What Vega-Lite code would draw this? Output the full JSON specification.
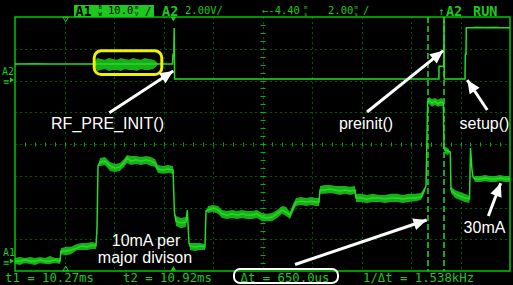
{
  "$schema": "https://vega.github.io/schema/vega-lite/v6.json",
  "width": 495,
  "height": 254,
  "autosize": {"type": "none"},
  "padding": {"left": 15, "top": 17, "right": 3, "bottom": 14},
  "background": "#000000",
  "config": {
    "view": {"stroke": "#00c800", "strokeWidth": 1.5},
    "axis": {"labels": false, "ticks": false, "domain": false, "title": null, "grid": false},
    "text": {"font": "DejaVu Sans Mono"}
  },
  "datasets": {
    "a1": [
      {"x": -5.000, "v": -3.69, "lo": -3.59, "hi": -3.78},
      {"x": -4.899, "v": -3.69, "lo": -3.56, "hi": -3.81},
      {"x": -4.798, "v": -3.65, "lo": -3.59, "hi": -3.75},
      {"x": -4.697, "v": -3.69, "lo": -3.56, "hi": -3.78},
      {"x": -4.596, "v": -3.69, "lo": -3.59, "hi": -3.81},
      {"x": -4.495, "v": -3.65, "lo": -3.56, "hi": -3.75},
      {"x": -4.394, "v": -3.69, "lo": -3.59, "hi": -3.78},
      {"x": -4.293, "v": -3.69, "lo": -3.53, "hi": -3.78},
      {"x": -4.192, "v": -3.65, "lo": -3.59, "hi": -3.75},
      {"x": -4.091, "v": -3.69, "lo": -3.59, "hi": -3.78},
      {"x": -4.071, "v": -3.37, "lo": -3.28, "hi": -3.47},
      {"x": -3.970, "v": -3.37, "lo": -3.24, "hi": -3.50},
      {"x": -3.869, "v": -3.34, "lo": -3.24, "hi": -3.47},
      {"x": -3.747, "v": -3.28, "lo": -3.15, "hi": -3.34},
      {"x": -3.646, "v": -3.21, "lo": -3.12, "hi": -3.34},
      {"x": -3.545, "v": -3.24, "lo": -3.12, "hi": -3.34},
      {"x": -3.444, "v": -3.18, "lo": -3.09, "hi": -3.31},
      {"x": -3.364, "v": -3.21, "lo": -3.12, "hi": -3.31},
      {"x": -3.343, "v": -2.65, "lo": -2.65, "hi": -2.65},
      {"x": -3.323, "v": -0.69, "lo": -0.69, "hi": -0.69},
      {"x": -3.283, "v": -0.57, "lo": -0.44, "hi": -0.69},
      {"x": -3.182, "v": -0.54, "lo": -0.41, "hi": -0.66},
      {"x": -3.081, "v": -0.69, "lo": -0.57, "hi": -0.85},
      {"x": -2.980, "v": -0.76, "lo": -0.63, "hi": -0.88},
      {"x": -2.879, "v": -0.72, "lo": -0.60, "hi": -0.85},
      {"x": -2.798, "v": -0.60, "lo": -0.47, "hi": -0.72},
      {"x": -2.737, "v": -0.44, "lo": -0.35, "hi": -0.60},
      {"x": -2.657, "v": -0.54, "lo": -0.38, "hi": -0.66},
      {"x": -2.556, "v": -0.50, "lo": -0.38, "hi": -0.63},
      {"x": -2.455, "v": -0.54, "lo": -0.41, "hi": -0.66},
      {"x": -2.354, "v": -0.50, "lo": -0.38, "hi": -0.63},
      {"x": -2.253, "v": -0.54, "lo": -0.41, "hi": -0.69},
      {"x": -2.172, "v": -0.60, "lo": -0.47, "hi": -0.72},
      {"x": -2.111, "v": -0.79, "lo": -0.66, "hi": -0.91},
      {"x": -2.010, "v": -0.82, "lo": -0.69, "hi": -0.94},
      {"x": -1.909, "v": -0.79, "lo": -0.66, "hi": -0.91},
      {"x": -1.808, "v": -0.82, "lo": -0.69, "hi": -0.94},
      {"x": -1.778, "v": -2.17, "lo": -2.17, "hi": -2.17},
      {"x": -1.747, "v": -2.43, "lo": -2.27, "hi": -2.58},
      {"x": -1.646, "v": -2.49, "lo": -2.33, "hi": -2.65},
      {"x": -1.545, "v": -2.46, "lo": -2.30, "hi": -2.61},
      {"x": -1.519, "v": -2.08, "lo": -2.08, "hi": -2.08},
      {"x": -1.485, "v": -3.12, "lo": -3.12, "hi": -3.12},
      {"x": -1.465, "v": -3.21, "lo": -3.12, "hi": -3.34},
      {"x": -1.364, "v": -3.24, "lo": -3.12, "hi": -3.37},
      {"x": -1.263, "v": -3.21, "lo": -3.12, "hi": -3.34},
      {"x": -1.162, "v": -3.24, "lo": -3.15, "hi": -3.34},
      {"x": -1.141, "v": -2.11, "lo": -2.11, "hi": -2.11},
      {"x": -1.101, "v": -2.08, "lo": -1.95, "hi": -2.17},
      {"x": -1.000, "v": -2.02, "lo": -1.92, "hi": -2.14},
      {"x": -0.899, "v": -2.08, "lo": -1.95, "hi": -2.20},
      {"x": -0.818, "v": -2.20, "lo": -2.08, "hi": -2.33},
      {"x": -0.717, "v": -2.24, "lo": -2.11, "hi": -2.36},
      {"x": -0.616, "v": -2.20, "lo": -2.08, "hi": -2.33},
      {"x": -0.515, "v": -2.24, "lo": -2.11, "hi": -2.36},
      {"x": -0.414, "v": -2.20, "lo": -2.08, "hi": -2.33},
      {"x": -0.313, "v": -2.24, "lo": -2.11, "hi": -2.36},
      {"x": -0.212, "v": -2.24, "lo": -2.11, "hi": -2.36},
      {"x": -0.111, "v": -2.20, "lo": -2.08, "hi": -2.33},
      {"x": -0.010, "v": -2.30, "lo": -2.17, "hi": -2.43},
      {"x": 0.091, "v": -2.33, "lo": -2.20, "hi": -2.43},
      {"x": 0.192, "v": -2.30, "lo": -2.17, "hi": -2.43},
      {"x": 0.293, "v": -2.20, "lo": -2.08, "hi": -2.33},
      {"x": 0.394, "v": -2.08, "lo": -1.95, "hi": -2.20},
      {"x": 0.475, "v": -2.14, "lo": -1.98, "hi": -2.27},
      {"x": 0.556, "v": -2.24, "lo": -2.14, "hi": -2.36},
      {"x": 0.616, "v": -2.02, "lo": -1.89, "hi": -2.14},
      {"x": 0.677, "v": -1.83, "lo": -1.70, "hi": -1.95},
      {"x": 0.778, "v": -1.80, "lo": -1.67, "hi": -1.92},
      {"x": 0.879, "v": -1.83, "lo": -1.70, "hi": -1.95},
      {"x": 0.980, "v": -1.80, "lo": -1.67, "hi": -1.92},
      {"x": 1.081, "v": -1.83, "lo": -1.70, "hi": -1.95},
      {"x": 1.141, "v": -1.83, "lo": -1.70, "hi": -1.95},
      {"x": 1.162, "v": -1.45, "lo": -1.32, "hi": -1.57},
      {"x": 1.263, "v": -1.45, "lo": -1.29, "hi": -1.57},
      {"x": 1.364, "v": -1.42, "lo": -1.29, "hi": -1.54},
      {"x": 1.465, "v": -1.45, "lo": -1.32, "hi": -1.57},
      {"x": 1.566, "v": -1.48, "lo": -1.32, "hi": -1.61},
      {"x": 1.667, "v": -1.45, "lo": -1.32, "hi": -1.57},
      {"x": 1.768, "v": -1.48, "lo": -1.35, "hi": -1.61},
      {"x": 1.869, "v": -1.45, "lo": -1.32, "hi": -1.57},
      {"x": 1.889, "v": -1.70, "lo": -1.57, "hi": -1.83},
      {"x": 1.990, "v": -1.70, "lo": -1.57, "hi": -1.83},
      {"x": 2.111, "v": -1.73, "lo": -1.61, "hi": -1.86},
      {"x": 2.232, "v": -1.70, "lo": -1.57, "hi": -1.83},
      {"x": 2.354, "v": -1.70, "lo": -1.61, "hi": -1.83},
      {"x": 2.475, "v": -1.73, "lo": -1.61, "hi": -1.86},
      {"x": 2.596, "v": -1.70, "lo": -1.57, "hi": -1.83},
      {"x": 2.717, "v": -1.70, "lo": -1.57, "hi": -1.83},
      {"x": 2.838, "v": -1.73, "lo": -1.61, "hi": -1.86},
      {"x": 2.960, "v": -1.70, "lo": -1.57, "hi": -1.83},
      {"x": 3.081, "v": -1.70, "lo": -1.57, "hi": -1.80},
      {"x": 3.202, "v": -1.67, "lo": -1.54, "hi": -1.76},
      {"x": 3.263, "v": -1.48, "lo": -1.39, "hi": -1.57},
      {"x": 3.303, "v": -1.32, "lo": -1.32, "hi": -1.32},
      {"x": 3.337, "v": 1.32, "lo": 1.32, "hi": 1.32},
      {"x": 3.364, "v": 1.39, "lo": 1.48, "hi": 1.26},
      {"x": 3.424, "v": 1.29, "lo": 1.42, "hi": 1.17},
      {"x": 3.485, "v": 1.35, "lo": 1.45, "hi": 1.23},
      {"x": 3.545, "v": 1.26, "lo": 1.39, "hi": 1.17},
      {"x": 3.606, "v": 1.32, "lo": 1.45, "hi": 1.20},
      {"x": 3.653, "v": 1.29, "lo": 1.42, "hi": 1.20},
      {"x": 3.667, "v": -0.13, "lo": -0.13, "hi": -0.13},
      {"x": 3.687, "v": -0.19, "lo": -0.09, "hi": -0.31},
      {"x": 3.747, "v": -0.22, "lo": -0.13, "hi": -0.35},
      {"x": 3.794, "v": -0.25, "lo": -0.25, "hi": -0.25},
      {"x": 3.808, "v": -1.45, "lo": -1.35, "hi": -1.54},
      {"x": 3.889, "v": -1.57, "lo": -1.45, "hi": -1.70},
      {"x": 3.990, "v": -1.64, "lo": -1.51, "hi": -1.76},
      {"x": 4.091, "v": -1.70, "lo": -1.57, "hi": -1.83},
      {"x": 4.182, "v": -1.73, "lo": -1.64, "hi": -1.86},
      {"x": 4.202, "v": -0.13, "lo": -0.13, "hi": -0.13},
      {"x": 4.232, "v": -0.82, "lo": -0.82, "hi": -0.82},
      {"x": 4.253, "v": -1.04, "lo": -1.04, "hi": -1.04},
      {"x": 4.293, "v": -1.10, "lo": -1.01, "hi": -1.20},
      {"x": 4.394, "v": -1.10, "lo": -1.01, "hi": -1.20},
      {"x": 4.495, "v": -1.07, "lo": -0.98, "hi": -1.17},
      {"x": 4.596, "v": -1.10, "lo": -1.01, "hi": -1.20},
      {"x": 4.697, "v": -1.10, "lo": -1.01, "hi": -1.20},
      {"x": 4.798, "v": -1.07, "lo": -0.98, "hi": -1.17},
      {"x": 4.899, "v": -1.10, "lo": -1.01, "hi": -1.20},
      {"x": 5.000, "v": -1.10, "lo": -1.01, "hi": -1.20}
    ],
    "a2": [
      {"x": -5.000, "v": 2.52, "lo": 2.52, "hi": 2.52},
      {"x": -4.596, "v": 2.52, "lo": 2.55, "hi": 2.52},
      {"x": -4.293, "v": 2.52, "lo": 2.52, "hi": 2.52},
      {"x": -3.444, "v": 2.52, "lo": 2.52, "hi": 2.52},
      {"x": -3.384, "v": 2.52, "lo": 2.58, "hi": 2.46},
      {"x": -3.343, "v": 2.52, "lo": 2.71, "hi": 2.30},
      {"x": -3.263, "v": 2.52, "lo": 2.68, "hi": 2.33},
      {"x": -3.182, "v": 2.52, "lo": 2.65, "hi": 2.36},
      {"x": -3.101, "v": 2.52, "lo": 2.71, "hi": 2.30},
      {"x": -3.020, "v": 2.52, "lo": 2.68, "hi": 2.33},
      {"x": -2.939, "v": 2.52, "lo": 2.65, "hi": 2.33},
      {"x": -2.859, "v": 2.52, "lo": 2.71, "hi": 2.30},
      {"x": -2.778, "v": 2.52, "lo": 2.68, "hi": 2.36},
      {"x": -2.697, "v": 2.52, "lo": 2.65, "hi": 2.33},
      {"x": -2.616, "v": 2.52, "lo": 2.71, "hi": 2.33},
      {"x": -2.535, "v": 2.52, "lo": 2.68, "hi": 2.30},
      {"x": -2.455, "v": 2.52, "lo": 2.65, "hi": 2.36},
      {"x": -2.374, "v": 2.52, "lo": 2.71, "hi": 2.33},
      {"x": -2.293, "v": 2.52, "lo": 2.68, "hi": 2.33},
      {"x": -2.212, "v": 2.52, "lo": 2.65, "hi": 2.36},
      {"x": -2.152, "v": 2.52, "lo": 2.61, "hi": 2.43},
      {"x": -2.111, "v": 2.52, "lo": 2.52, "hi": 2.52},
      {"x": -1.818, "v": 2.52, "lo": 2.52, "hi": 2.52},
      {"x": -1.808, "v": 2.83, "lo": 2.83, "hi": 2.83},
      {"x": -1.792, "v": 2.83, "lo": 2.83, "hi": 2.83},
      {"x": -1.784, "v": 3.65, "lo": 3.65, "hi": 3.65},
      {"x": -1.776, "v": 2.05, "lo": 2.05, "hi": 2.05},
      {"x": 3.564, "v": 2.05, "lo": 2.05, "hi": 2.05},
      {"x": 3.566, "v": 2.45, "lo": 2.45, "hi": 2.45},
      {"x": 3.661, "v": 2.45, "lo": 2.45, "hi": 2.45},
      {"x": 3.667, "v": 3.91, "lo": 3.91, "hi": 3.91},
      {"x": 3.673, "v": 2.05, "lo": 2.05, "hi": 2.05},
      {"x": 4.091, "v": 2.05, "lo": 2.05, "hi": 2.05},
      {"x": 4.097, "v": 2.83, "lo": 2.83, "hi": 2.83},
      {"x": 4.111, "v": 2.83, "lo": 2.83, "hi": 2.83},
      {"x": 4.117, "v": 3.66, "lo": 3.66, "hi": 3.66},
      {"x": 4.300, "v": 3.66, "lo": 3.70, "hi": 3.66},
      {"x": 4.500, "v": 3.66, "lo": 3.69, "hi": 3.66},
      {"x": 4.700, "v": 3.66, "lo": 3.70, "hi": 3.66},
      {"x": 5.000, "v": 3.66, "lo": 3.66, "hi": 3.66}
    ],
    "arrows": [
      {"x": -3.095, "y": 0.986, "x2": -1.802, "y2": 2.299},
      {"x": 2.111, "y": 1.008, "x2": 3.653, "y2": 2.939},
      {"x": 4.541, "y": 1.071, "x2": 4.137, "y2": 2.016},
      {"x": 0.657, "y": -3.795, "x2": 3.317, "y2": -2.394},
      {"x": 4.562, "y": -2.268, "x2": 4.812, "y2": -1.238}
    ]
  },
  "resolve": {"axis": {"x": "independent", "y": "independent"}},
  "layer": [
    {
      "data": {"name": "a1"},
      "mark": {"type": "area", "orient": "vertical", "color": "#1ccc1c", "opacity": 0.85},
      "encoding": {
        "x": {"field": "x", "type": "quantitative", "scale": {"domain": [-5, 5], "nice": false, "zero": false},
              "axis": {"grid": true, "values": [-4, -3, -2, -1, 0, 1, 2, 3, 4], "gridColor": "#00b400", "gridDash": [1, 4], "gridWidth": 1, "gridOpacity": 1}},
        "y": {"field": "lo", "type": "quantitative", "scale": {"domain": [-4, 4], "nice": false, "zero": false},
              "axis": {"grid": true, "values": [-3, -2, -1, 0, 1, 2, 3], "gridColor": "#00b400", "gridDash": [1, 4], "gridWidth": 1, "gridOpacity": 1}},
        "y2": {"field": "hi"}
      }
    },
    {
      "data": {"name": "a1"},
      "mark": {"type": "line", "color": "#22dd22", "strokeWidth": 1.5},
      "encoding": {
        "x": {"field": "x", "type": "quantitative", "scale": {"domain": [-5, 5], "nice": false, "zero": false},
              "axis": {"orient": "bottom", "offset": -127, "ticks": true, "tickSize": 2, "tickColor": "#00b400", "tickWidth": 1,
                       "values": [-4.8, -4.6, -4.4, -4.2, -4, -3.8, -3.6, -3.4, -3.2, -3, -2.8, -2.6, -2.4, -2.2, -2, -1.8, -1.6, -1.4, -1.2, -1, -0.8, -0.6, -0.4, -0.2, 0, 0.2, 0.4, 0.6, 0.8, 1, 1.2, 1.4, 1.6, 1.8, 2, 2.2, 2.4, 2.6, 2.8, 3, 3.2, 3.4, 3.6, 3.8, 4, 4.2, 4.4, 4.6, 4.8]}},
        "y": {"field": "v", "type": "quantitative", "scale": {"domain": [-4, 4], "nice": false, "zero": false},
              "axis": {"orient": "left", "offset": -247.5, "ticks": true, "tickSize": 2.5, "tickColor": "#00b400", "tickWidth": 1,
                       "values": [-3.75, -3.5, -3.25, -3, -2.75, -2.5, -2.25, -2, -1.75, -1.5, -1.25, -1, -0.75, -0.5, -0.25, 0, 0.25, 0.5, 0.75, 1, 1.25, 1.5, 1.75, 2, 2.25, 2.5, 2.75, 3, 3.25, 3.5, 3.75]}}
      }
    },
    {
      "data": {"name": "a2"},
      "mark": {"type": "area", "orient": "vertical", "color": "#1ccc1c", "opacity": 0.85},
      "encoding": {
        "x": {"field": "x", "type": "quantitative", "scale": {"domain": [-5, 5], "nice": false, "zero": false},
              "axis": {"orient": "top", "offset": -127, "ticks": true, "tickSize": 2, "tickColor": "#00b400", "tickWidth": 1,
                       "values": [-4.8, -4.6, -4.4, -4.2, -4, -3.8, -3.6, -3.4, -3.2, -3, -2.8, -2.6, -2.4, -2.2, -2, -1.8, -1.6, -1.4, -1.2, -1, -0.8, -0.6, -0.4, -0.2, 0, 0.2, 0.4, 0.6, 0.8, 1, 1.2, 1.4, 1.6, 1.8, 2, 2.2, 2.4, 2.6, 2.8, 3, 3.2, 3.4, 3.6, 3.8, 4, 4.2, 4.4, 4.6, 4.8]}},
        "y": {"field": "lo", "type": "quantitative", "scale": {"domain": [-4, 4], "nice": false, "zero": false},
              "axis": {"orient": "right", "offset": -247.5, "ticks": true, "tickSize": 2.5, "tickColor": "#00b400", "tickWidth": 1,
                       "values": [-3.75, -3.5, -3.25, -3, -2.75, -2.5, -2.25, -2, -1.75, -1.5, -1.25, -1, -0.75, -0.5, -0.25, 0, 0.25, 0.5, 0.75, 1, 1.25, 1.5, 1.75, 2, 2.25, 2.5, 2.75, 3, 3.25, 3.5, 3.75]}},
        "y2": {"field": "hi"}
      }
    },
    {
      "data": {"name": "a2"},
      "mark": {"type": "line", "color": "#22dd22", "strokeWidth": 1.5},
      "encoding": {
        "x": {"field": "x", "type": "quantitative", "scale": {"domain": [-5, 5], "nice": false, "zero": false}, "axis": null},
        "y": {"field": "v", "type": "quantitative", "scale": {"domain": [-4, 4], "nice": false, "zero": false}, "axis": null}
      }
    },
    {
      "data": {"values": [{"t": 3.343}, {"t": 3.667}]},
      "mark": {"type": "rule", "color": "#22dd22", "strokeWidth": 1.5, "strokeDash": [6, 3]},
      "encoding": {
        "x": {"field": "t", "type": "quantitative", "scale": {"domain": [-5, 5], "nice": false, "zero": false}, "axis": null}
      }
    },
    {
      "data": {"values": [{"x": -3.400, "x2": -2.034, "y": 2.935, "y2": 2.189}]},
      "mark": {"type": "rect", "filled": false, "stroke": "#f0f000", "strokeWidth": 3, "cornerRadius": 7},
      "encoding": {
        "x": {"field": "x", "type": "quantitative", "scale": {"domain": [-5, 5], "nice": false, "zero": false}, "axis": null},
        "x2": {"field": "x2"},
        "y": {"field": "y", "type": "quantitative", "scale": {"domain": [-4, 4], "nice": false, "zero": false}, "axis": null},
        "y2": {"field": "y2"}
      }
    },
    {
      "data": {"name": "arrows"},
      "mark": {"type": "rule", "color": "#ffffff", "strokeWidth": 3},
      "encoding": {
        "x": {"field": "x", "type": "quantitative", "scale": {"domain": [-5, 5], "nice": false, "zero": false}, "axis": null},
        "x2": {"field": "x2"},
        "y": {"field": "y", "type": "quantitative", "scale": {"domain": [-4, 4], "nice": false, "zero": false}, "axis": null},
        "y2": {"field": "y2"}
      }
    },
    {
      "data": {"name": "arrows"},
      "transform": [{"calculate": "atan2((datum.x2 - datum.x) * 49.5, (datum.y2 - datum.y) * 31.75) * 180 / PI", "as": "ang"}],
      "mark": {"type": "point", "shape": "M0,0 L0.45,1 L-0.45,1 Z", "filled": true, "color": "#ffffff", "opacity": 1, "size": 700},
      "encoding": {
        "x": {"field": "x2", "type": "quantitative", "scale": {"domain": [-5, 5], "nice": false, "zero": false}, "axis": null},
        "y": {"field": "y2", "type": "quantitative", "scale": {"domain": [-4, 4], "nice": false, "zero": false}, "axis": null},
        "angle": {"field": "ang", "type": "quantitative", "scale": null}
      }
    },
    {
      "data": {"values": [
        {"x": -3.131, "y": 0.488, "text": "RF_PRE_INIT()"},
        {"x": 2.091, "y": 0.488, "text": "preinit()"},
        {"x": 4.485, "y": 0.488, "text": "setup()"},
        {"x": -2.354, "y": -3.228, "text": "10mA per"},
        {"x": -2.374, "y": -3.757, "text": "major divison"},
        {"x": 4.485, "y": -2.813, "text": "30mA"}
      ]},
      "mark": {"type": "text", "font": "Liberation Sans", "fontSize": 16, "color": "#ffffff", "align": "center", "baseline": "alphabetic"},
      "encoding": {
        "x": {"field": "x", "type": "quantitative", "scale": {"domain": [-5, 5], "nice": false, "zero": false}, "axis": null},
        "y": {"field": "y", "type": "quantitative", "scale": {"domain": [-4, 4], "nice": false, "zero": false}, "axis": null},
        "text": {"field": "text"}
      }
    },
    {
      "data": {"values": [{"x": -3.808, "x2": -2.192, "y": 4.378, "y2": 4.0}]},
      "mark": {"type": "rect", "color": "#1ec81e"},
      "encoding": {
        "x": {"field": "x", "type": "quantitative", "scale": {"domain": [-5, 5], "nice": false, "zero": false}, "axis": null},
        "x2": {"field": "x2"},
        "y": {"field": "y", "type": "quantitative", "scale": {"domain": [-4, 4], "nice": false, "zero": false}, "axis": null},
        "y2": {"field": "y2"}
      }
    },
    {
      "data": {"values": [{"x": -3.778, "y": 4.031, "text": "A1"}]},
      "mark": {"type": "text", "fontSize": 13.5, "fontWeight": "bold", "color": "#000000", "align": "left", "baseline": "alphabetic"},
      "encoding": {
        "x": {"field": "x", "type": "quantitative", "scale": {"domain": [-5, 5], "nice": false, "zero": false}, "axis": null},
        "y": {"field": "y", "type": "quantitative", "scale": {"domain": [-4, 4], "nice": false, "zero": false}, "axis": null},
        "text": {"field": "text"}
      }
    },
    {
      "data": {"values": [
        {"x": -3.313, "y": 4.243, "text": ["B", "W"]},
        {"x": -2.576, "y": 4.243, "text": ["m", "V"]}
      ]},
      "mark": {"type": "text", "fontSize": 5.5, "lineHeight": 6.6, "color": "#000000", "align": "left", "baseline": "alphabetic"},
      "encoding": {
        "x": {"field": "x", "type": "quantitative", "scale": {"domain": [-5, 5], "nice": false, "zero": false}, "axis": null},
        "y": {"field": "y", "type": "quantitative", "scale": {"domain": [-4, 4], "nice": false, "zero": false}, "axis": null},
        "text": {"field": "text"}
      }
    },
    {
      "data": {"values": [
        {"x": -3.121, "y": 4.094, "text": "10.0"},
        {"x": -2.374, "y": 4.063, "text": "/"}
      ]},
      "mark": {"type": "text", "fontSize": 10.5, "color": "#000000", "align": "left", "baseline": "alphabetic"},
      "encoding": {
        "x": {"field": "x", "type": "quantitative", "scale": {"domain": [-5, 5], "nice": false, "zero": false}, "axis": null},
        "y": {"field": "y", "type": "quantitative", "scale": {"domain": [-4, 4], "nice": false, "zero": false}, "axis": null},
        "text": {"field": "text"}
      }
    },
    {
      "data": {"values": [
        {"x": -2.030, "y": 4.016, "text": "A2"},
        {"x": 3.707, "y": 4.016, "text": "A2"},
        {"x": 4.253, "y": 4.016, "text": "RUN"}
      ]},
      "mark": {"type": "text", "fontSize": 13.5, "fontWeight": "bold", "color": "#1ec81e", "align": "left", "baseline": "alphabetic"},
      "encoding": {
        "x": {"field": "x", "type": "quantitative", "scale": {"domain": [-5, 5], "nice": false, "zero": false}, "axis": null},
        "y": {"field": "y", "type": "quantitative", "scale": {"domain": [-4, 4], "nice": false, "zero": false}, "axis": null},
        "text": {"field": "text"}
      }
    },
    {
      "data": {"values": [
        {"x": -1.566, "y": 4.094, "text": "2.00V/"},
        {"x": -0.010, "y": 4.094, "text": "←-4.40"},
        {"x": 1.323, "y": 4.094, "text": "2.00"},
        {"x": 2.030, "y": 4.094, "text": "/"},
        {"x": 3.545, "y": 4.063, "text": "↑"}
      ]},
      "mark": {"type": "text", "fontSize": 10.5, "color": "#1ec81e", "align": "left", "baseline": "alphabetic"},
      "encoding": {
        "x": {"field": "x", "type": "quantitative", "scale": {"domain": [-5, 5], "nice": false, "zero": false}, "axis": null},
        "y": {"field": "y", "type": "quantitative", "scale": {"domain": [-4, 4], "nice": false, "zero": false}, "axis": null},
        "text": {"field": "text"}
      }
    },
    {
      "data": {"values": [
        {"x": 0.838, "y": 4.243, "text": ["m", "s"]},
        {"x": 1.858, "y": 4.243, "text": ["m", "s"]}
      ]},
      "mark": {"type": "text", "fontSize": 5.5, "lineHeight": 6.6, "color": "#1ec81e", "align": "left", "baseline": "alphabetic"},
      "encoding": {
        "x": {"field": "x", "type": "quantitative", "scale": {"domain": [-5, 5], "nice": false, "zero": false}, "axis": null},
        "y": {"field": "y", "type": "quantitative", "scale": {"domain": [-4, 4], "nice": false, "zero": false}, "axis": null},
        "text": {"field": "text"}
      }
    },
    {
      "data": {"values": [{"x": -0.576, "x2": 1.525, "y": -3.937, "y2": -4.378}]},
      "mark": {"type": "rect", "filled": false, "stroke": "#ffffff", "strokeWidth": 2, "cornerRadius": 6},
      "encoding": {
        "x": {"field": "x", "type": "quantitative", "scale": {"domain": [-5, 5], "nice": false, "zero": false}, "axis": null},
        "x2": {"field": "x2"},
        "y": {"field": "y", "type": "quantitative", "scale": {"domain": [-4, 4], "nice": false, "zero": false}, "axis": null},
        "y2": {"field": "y2"}
      }
    },
    {
      "data": {"values": [
        {"x": -5.202, "y": -4.346, "text": "t1 = 10.27ms"},
        {"x": -2.818, "y": -4.346, "text": "t2 = 10.92ms"},
        {"x": -0.444, "y": -4.346, "text": "Δt = 650.0us"},
        {"x": 2.030, "y": -4.346, "text": "1/Δt = 1.538kHz"}
      ]},
      "mark": {"type": "text", "fontSize": 12.3, "color": "#1ec81e", "align": "left", "baseline": "alphabetic"},
      "encoding": {
        "x": {"field": "x", "type": "quantitative", "scale": {"domain": [-5, 5], "nice": false, "zero": false}, "axis": null},
        "y": {"field": "y", "type": "quantitative", "scale": {"domain": [-4, 4], "nice": false, "zero": false}, "axis": null},
        "text": {"field": "text"}
      }
    },
    {
      "data": {"values": [
        {"x": -5.263, "y": 2.173, "text": "A2"},
        {"x": -5.243, "y": -3.528, "text": "A1"},
        {"x": -5.243, "y": 1.860, "text": "≡"},
        {"x": -5.243, "y": -3.840, "text": "≡"}
      ]},
      "mark": {"type": "text", "fontSize": 10, "color": "#1ec81e", "align": "left", "baseline": "alphabetic"},
      "encoding": {
        "x": {"field": "x", "type": "quantitative", "scale": {"domain": [-5, 5], "nice": false, "zero": false}, "axis": null},
        "y": {"field": "y", "type": "quantitative", "scale": {"domain": [-4, 4], "nice": false, "zero": false}, "axis": null},
        "text": {"field": "text"}
      }
    },
    {
      "data": {"values": [{"x": -5.060, "y": 2.016}, {"x": -5.060, "y": -3.685}]},
      "mark": {"type": "point", "shape": "triangle-right", "filled": true, "color": "#1ec81e", "opacity": 1, "size": 25},
      "encoding": {
        "x": {"field": "x", "type": "quantitative", "scale": {"domain": [-5, 5], "nice": false, "zero": false}, "axis": null},
        "y": {"field": "y", "type": "quantitative", "scale": {"domain": [-4, 4], "nice": false, "zero": false}, "axis": null}
      }
    },
    {
      "data": {"values": [{"x": -1.80, "y": 3.93}]},
      "mark": {"type": "point", "shape": "triangle-down", "filled": true, "color": "#1ec81e", "opacity": 1, "size": 30},
      "encoding": {
        "x": {"field": "x", "type": "quantitative", "scale": {"domain": [-5, 5], "nice": false, "zero": false}, "axis": null},
        "y": {"field": "y", "type": "quantitative", "scale": {"domain": [-4, 4], "nice": false, "zero": false}, "axis": null}
      }
    },
    {
      "data": {"values": [{"x": -1.80, "y": -3.92}]},
      "mark": {"type": "point", "shape": "triangle-up", "filled": true, "color": "#1ec81e", "opacity": 1, "size": 30},
      "encoding": {
        "x": {"field": "x", "type": "quantitative", "scale": {"domain": [-5, 5], "nice": false, "zero": false}, "axis": null},
        "y": {"field": "y", "type": "quantitative", "scale": {"domain": [-4, 4], "nice": false, "zero": false}, "axis": null}
      }
    },
    {
      "data": {"values": [{"x": -3.976, "y": 3.92}]},
      "mark": {"type": "point", "shape": "triangle-down", "filled": false, "color": "#1ec81e", "opacity": 1, "strokeWidth": 1, "size": 30},
      "encoding": {
        "x": {"field": "x", "type": "quantitative", "scale": {"domain": [-5, 5], "nice": false, "zero": false}, "axis": null},
        "y": {"field": "y", "type": "quantitative", "scale": {"domain": [-4, 4], "nice": false, "zero": false}, "axis": null}
      }
    },
    {
      "data": {"values": [{"x": -3.976, "y": -3.92}]},
      "mark": {"type": "point", "shape": "triangle-up", "filled": false, "color": "#1ec81e", "opacity": 1, "strokeWidth": 1, "size": 30},
      "encoding": {
        "x": {"field": "x", "type": "quantitative", "scale": {"domain": [-5, 5], "nice": false, "zero": false}, "axis": null},
        "y": {"field": "y", "type": "quantitative", "scale": {"domain": [-4, 4], "nice": false, "zero": false}, "axis": null}
      }
    }
  ]
}
